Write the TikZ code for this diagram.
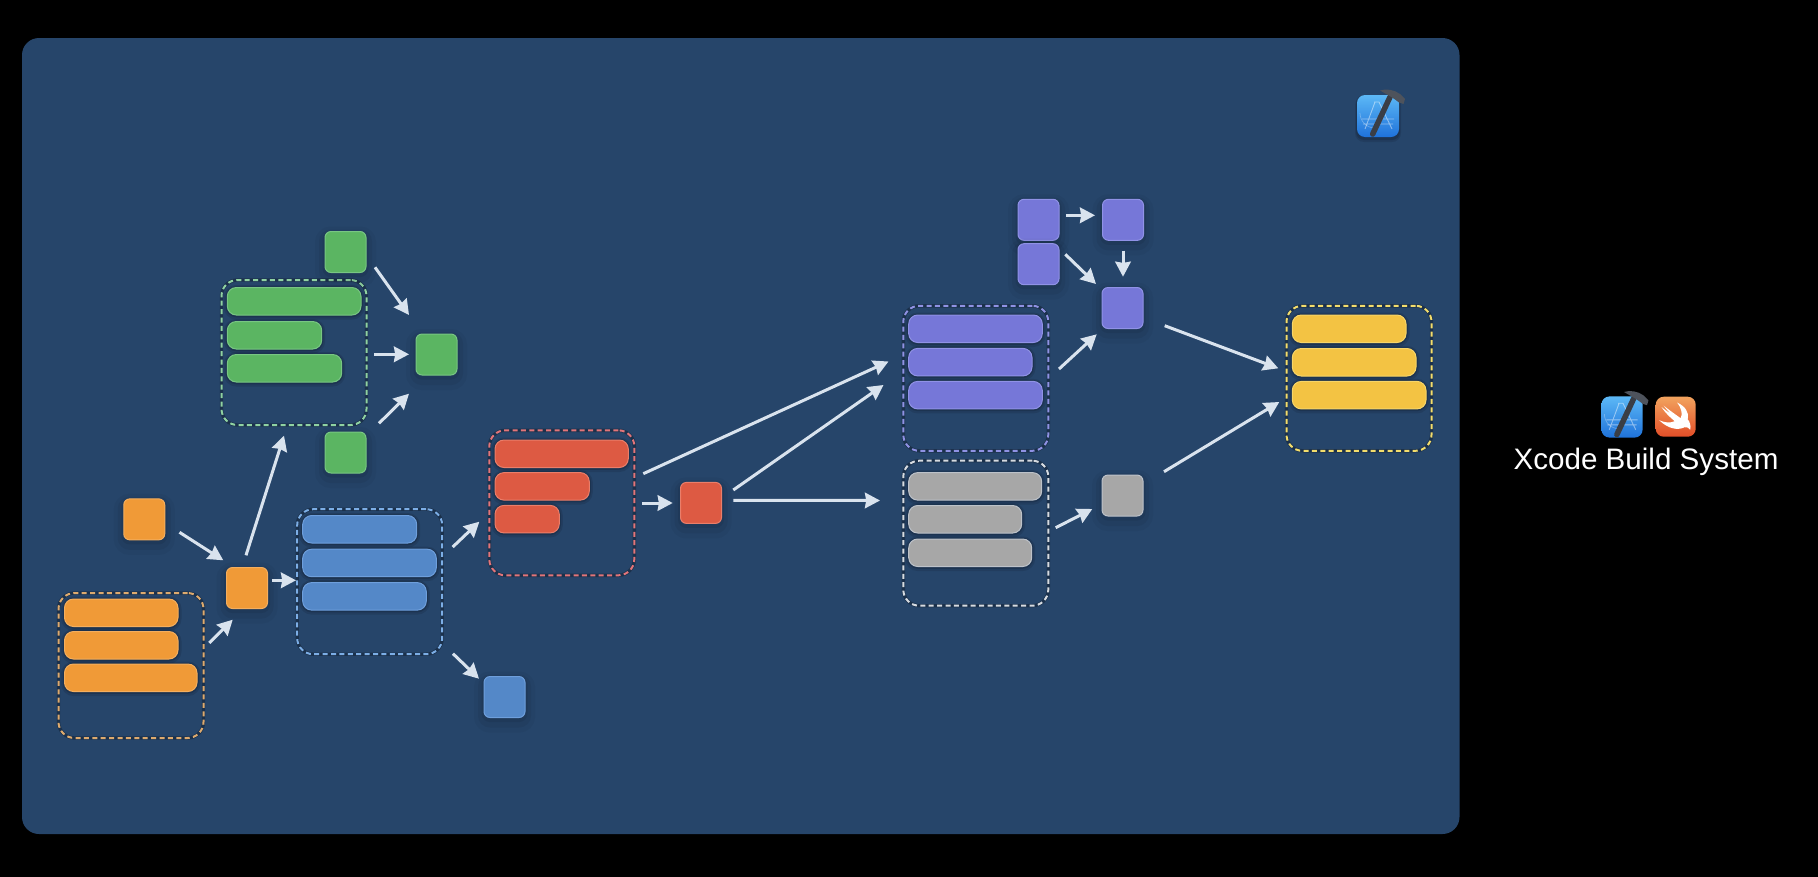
\documentclass[tikz,border=0pt]{standalone}
\usepackage{fontspec}
\setmainfont{Liberation Sans}
\usetikzlibrary{arrows.meta,shadings}
\definecolor{panel}{HTML}{26456A}
\definecolor{arrowc}{HTML}{D9E3EE}
\definecolor{cO}{HTML}{F09A37}\definecolor{cOl}{HTML}{F4AE5E}\definecolor{cOd}{HTML}{DDAA6E}
\definecolor{cG}{HTML}{5BB562}\definecolor{cGl}{HTML}{78C683}\definecolor{cGd}{HTML}{8FD2A2}
\definecolor{cB}{HTML}{5488C8}\definecolor{cBl}{HTML}{6E9FDC}\definecolor{cBd}{HTML}{7CAEE6}
\definecolor{cR}{HTML}{DD5A43}\definecolor{cRl}{HTML}{EA7E6A}\definecolor{cRd}{HTML}{E2757A}
\definecolor{cP}{HTML}{7677D8}\definecolor{cPl}{HTML}{9092E6}\definecolor{cPd}{HTML}{8F92E4}
\definecolor{cA}{HTML}{A7A7A7}\definecolor{cAl}{HTML}{BDC2C9}\definecolor{cAd}{HTML}{D6DBE1}
\definecolor{cY}{HTML}{F3C343}\definecolor{cYl}{HTML}{F7D568}\definecolor{cYd}{HTML}{F3DD6C}
\definecolor{xtop}{HTML}{5CB8F6}\definecolor{xbot}{HTML}{1F72DA}
\definecolor{hammerc}{HTML}{3A3E46}\definecolor{hammerh}{HTML}{4E535C}
\definecolor{swtop}{HTML}{F2A35E}\definecolor{swbot}{HTML}{E24E28}
\tikzset{
  softshadow/.style={
    preaction={draw=black,draw opacity=.035,line width=20pt,transform canvas={yshift=-5pt}},
    preaction={draw=black,draw opacity=.05,line width=12pt,transform canvas={yshift=-4pt}},
    preaction={draw=black,draw opacity=.07,line width=5pt,transform canvas={yshift=-2pt}}},
  tinyshadow/.style={
    preaction={draw=black,draw opacity=.10,line width=7pt,transform canvas={yshift=-1pt}},
    preaction={draw=black,draw opacity=.15,line width=3.5pt,transform canvas={yshift=-.5pt}}},
  sq/.style n args={2}{draw=#2,fill=#1,line width=1pt,rounded corners=6pt,inner sep=0pt,outer sep=0pt,
    minimum width=41pt,minimum height=41pt,softshadow},
  barbox/.style n args={3}{draw=#2,fill=#1,line width=1pt,rounded corners=9pt,inner sep=0pt,outer sep=0pt,
    minimum width=#3,minimum height=27.5pt,anchor=north west,tinyshadow},
  frm/.style={draw=#1,line width=2pt,dash pattern=on 5pt off 3.4pt,rounded corners=16pt,inner sep=0pt,outer sep=0pt,
    minimum width=145pt,minimum height=145pt,
    preaction={draw=black,draw opacity=.28,line width=3.4pt,solid}},
  arr/.style={draw=arrowc,line width=3pt,-{Stealth[length=15pt,width=15.5pt,inset=1.2pt]}},
}
\newcommand{\xcodeicon}[2]{%
  \begin{scope}[shift={(#1)},scale=#2]
    \fill[black,opacity=.10,rounded corners=9pt] (-23,-20) rectangle (23,26);
    \fill[black,opacity=.14,rounded corners=8pt] (-22,-21) rectangle (22,24);
    \shade[rounded corners=8pt,top color=xtop,bottom color=xbot] (-21,-21) rectangle (21,21);
    \draw[white,opacity=.28,line width=.7pt] (-18,-3) arc[start angle=180,end angle=90,radius=15];
    \draw[white,opacity=.45,line width=.9pt] (-3,-14) -- (-13,13) (1,-14) -- (14,13) (-4,-14) -- (1,-14)
      (-16,3) -- (16,3) (-15,8) -- (15,8);
    \draw[color=hammerc,line width=5.5pt,line cap=round] (-5.3,18) -- (12,-19);
    \fill[color=hammerh] (2,-25.5) .. controls (8,-27.5) and (16,-26.5) .. (22,-22) -- (27,-17) -- (25.5,-12) -- (21,-13.5)
      .. controls (17,-17) and (10,-21) .. (2,-25.5) -- cycle;
  \end{scope}}
\begin{document}
\begin{tikzpicture}[x=1pt,y=-1pt]
\path[use as bounding box] (0,0) rectangle (1818,876);
\fill[black] (-6,-6) rectangle (1824,882);
\fill[panel,rounded corners=17pt] (22,38) rectangle (1459.5,834);

% frames
\node[frm=cOd] (fo) at (131,665.5) {};
\node[frm=cGd] (fg) at (294,352.5) {};
\node[frm=cBd] (fb) at (369.7,581.7) {};
\node[frm=cRd] (fr) at (561.8,502.8) {};
\node[frm=cPd] (fp) at (975.8,378.3) {};
\node[frm=cAd] (fa) at (975.8,533.2) {};
\node[frm=cYd] (fy) at (1359,378.3) {};

% bars
\node[barbox={cO}{cOl}{113.5pt}] (o-b1) at (64.5,599) {};
\node[barbox={cO}{cOl}{113.5pt}] (o-b2) at (64.5,631.5) {};
\node[barbox={cO}{cOl}{132.5pt}] (o-b3) at (64.5,664) {};
\node[barbox={cG}{cGl}{133.7pt}] (g-b1) at (227.3,287.5) {};
\node[barbox={cG}{cGl}{94.4pt}] (g-b2) at (227.3,321.5) {};
\node[barbox={cG}{cGl}{114.4pt}] (g-b3) at (227.3,354.5) {};
\node[barbox={cB}{cBl}{114pt}] (b-b1) at (302.7,515.5) {};
\node[barbox={cB}{cBl}{133.6pt}] (b-b2) at (302.7,549.2) {};
\node[barbox={cB}{cBl}{123.6pt}] (b-b3) at (302.7,582.6) {};
\node[barbox={cR}{cRl}{133.3pt}] (r-b1) at (495,440) {};
\node[barbox={cR}{cRl}{94.3pt}] (r-b2) at (495,472.6) {};
\node[barbox={cR}{cRl}{64.3pt}] (r-b3) at (495,505.4) {};
\node[barbox={cP}{cPl}{133.6pt}] (p-b1) at (908.7,315) {};
\node[barbox={cP}{cPl}{123.3pt}] (p-b2) at (908.7,348.4) {};
\node[barbox={cP}{cPl}{133.6pt}] (p-b3) at (908.7,381.4) {};
\node[barbox={cA}{cAl}{133pt}] (a-b1) at (908.7,472.6) {};
\node[barbox={cA}{cAl}{113pt}] (a-b2) at (908.7,505.5) {};
\node[barbox={cA}{cAl}{123pt}] (a-b3) at (908.7,539) {};
\node[barbox={cY}{cYl}{113.7pt}] (y-b1) at (1292.3,315) {};
\node[barbox={cY}{cYl}{123.7pt}] (y-b2) at (1292.3,348.5) {};
\node[barbox={cY}{cYl}{133.7pt}] (y-b3) at (1292.3,381.4) {};

% squares
\node[sq={cO}{cOl}] (o1) at (144.25,519.35) {};
\node[sq={cO}{cOl}] (o2) at (247,588) {};
\node[sq={cG}{cGl}] (g1) at (345.5,252) {};
\node[sq={cG}{cGl}] (g2) at (345.5,452.5) {};
\node[sq={cG}{cGl}] (g3) at (436.5,354.5) {};
\node[sq={cB}{cBl}] (b1) at (504.5,697) {};
\node[sq={cR}{cRl}] (r1) at (701,502.9) {};
\node[sq={cP}{cPl}] (p1) at (1038.5,219.8) {};
\node[sq={cP}{cPl}] (p2) at (1038.5,264.2) {};
\node[sq={cP}{cPl}] (p3) at (1123,219.8) {};
\node[sq={cP}{cPl}] (p4) at (1122.5,308) {};
\node[sq={cA}{cAl}] (a1) at (1122.5,495.5) {};

% connectors
\draw[arr] ([shift={(35.25,12.95)}]o1.center) -- ([shift={(-23.7,-27.7)}]o2.center);
\draw[arr] ([shift={(78.3,-22.5)}]fo.center) -- ([shift={(-14.3,31.7)}]o2.center);
\draw[arr] ([shift={(-1,-32.7)}]o2.center) -- ([shift={(-10,83.2)}]fg.center);
\draw[arr] ([shift={(25,-7.7)}]o2.center) -- ([shift={(-73.7,-1.4)}]fb.center);
\draw[arr] ([shift={(29.5,15.3)}]g1.center) -- ([shift={(-27.5,-39.5)}]g3.center);
\draw[arr] ([shift={(80,1.8)}]fg.center) -- ([shift={(-27.5,-.2)}]g3.center);
\draw[arr] ([shift={(33.5,-29.2)}]g2.center) -- ([shift={(-27.5,39.2)}]g3.center);
\draw[arr] ([shift={(83,-34.7)}]fb.center) -- ([shift={(-82.5,18.9)}]fr.center);
\draw[arr] ([shift={(83.3,72)}]fb.center) -- ([shift={(-25.5,-18.3)}]b1.center);
\draw[arr] ([shift={(80.2,.2)}]fr.center) -- ([shift={(-28.3,.1)}]r1.center);
\draw[arr] ([shift={(81.5,-29.1)}]fr.center) -- ([shift={(-87.3,-16.8)}]fp.center);
\draw[arr] ([shift={(32.3,-12.9)}]r1.center) -- ([shift={(-92.3,6.7)}]fp.center);
\draw[arr] ([shift={(32.3,-2.6)}]r1.center) -- ([shift={(-95.8,-32.7)}]fa.center);
\draw[arr] ([shift={(27.5,-4.5)}]p1.center) -- ([shift={(-28,-4.5)}]p3.center);
\draw[arr] ([shift={(0,30.9)}]p3.center) -- ([shift={(.5,-31.3)}]p4.center);
\draw[arr] ([shift={(26.8,-9.9)}]p2.center) -- ([shift={(-26.5,-24)}]p4.center);
\draw[arr] ([shift={(83.2,-9.3)}]fp.center) -- ([shift={(-25.8,26.3)}]p4.center);
\draw[arr] ([shift={(42.2,17.7)}]p4.center) -- ([shift={(-80.7,-10)}]fy.center);
\draw[arr] ([shift={(41.5,-23.8)}]a1.center) -- ([shift={(-79.7,23.7)}]fy.center);
\draw[arr] ([shift={(79.9,-5.5)}]fa.center) -- ([shift={(-30.2,13.5)}]a1.center);

% icons
\xcodeicon{1378,116}{1}
\xcodeicon{1622,417}{.98}
\begin{scope}[shift={(1675.7,416.7)}]
  \shade[rounded corners=8pt,top color=swtop,bottom color=swbot] (-20,-20) rectangle (20,20);
  \fill[white] (-16.5,3.5) .. controls (-8,12) and (2,14) .. (9,10.5)
    .. controls (11,10) and (13,11) .. (14.5,13)
    .. controls (15.5,9) and (14,5) .. (12,2.5)
    .. controls (14,-4) and (9,-11) .. (1.5,-14)
    .. controls (6,-8) and (7,-3) .. (5,1.5)
    .. controls (0,-2) and (-7,-7) .. (-12,-11)
    .. controls (-9,-7) and (-7,-5) .. (-5,-3)
    .. controls (-8,-5) and (-11,-7) .. (-14,-9.5)
    .. controls (-10,-3) and (-5,1) .. (-1,4.5)
    .. controls (-6,6.5) and (-11,6) .. (-16.5,3.5) -- cycle;
\end{scope}

\node[text=white,anchor=base,inner sep=0pt,font=\fontsize{29.6}{32}\selectfont] (title) at (1646,469) {Xcode Build System};
\end{tikzpicture}
\end{document}
